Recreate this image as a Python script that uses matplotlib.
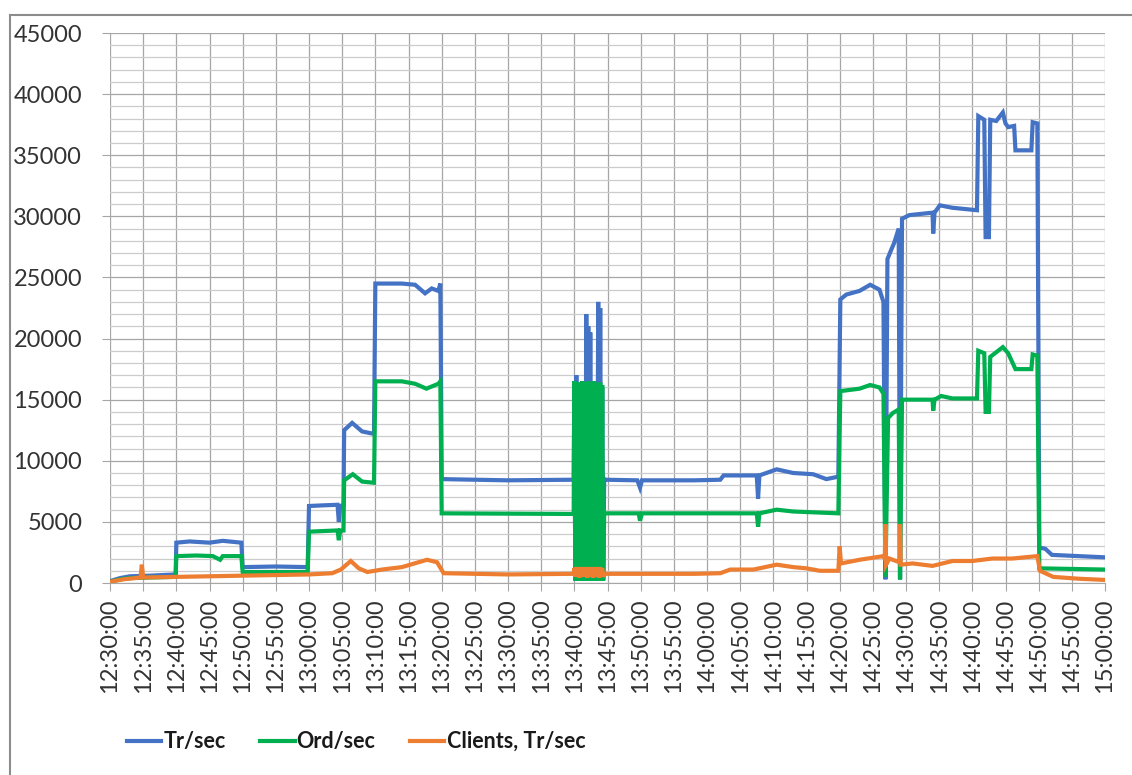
import matplotlib
matplotlib.use("Agg")
import matplotlib.pyplot as plt
from matplotlib.ticker import MultipleLocator, FuncFormatter
from matplotlib.lines import Line2D
import numpy as np

plt.rcParams['font.family'] = ['Lato', 'DejaVu Sans']

# time is in minutes after 12:30:00
# burst of rapid oscillation around 13:40 - 13:44
burst_t = [70.0, 70.15, 70.3, 70.45, 70.6, 70.75, 70.9, 71.05, 71.2, 71.35, 71.5,
           71.65, 71.8, 71.95, 72.1, 72.25, 72.4, 72.55, 72.7, 72.85, 73.0,
           73.15, 73.3, 73.45, 73.6, 73.75, 73.9, 74.05, 74.2, 74.35, 74.5]
burst_tr = [16500, 300, 17000, 400, 16000, 300, 15800, 400, 16200, 300, 16000,
            400, 22000, 300, 21000, 400, 20500, 300, 16500, 400, 16000,
            300, 16200, 400, 23000, 300, 22500, 400, 16000, 300, 8500]
burst_ord = [16500, 200, 16000, 300, 16400, 200, 16200, 300, 16500, 200, 16400,
             300, 16000, 200, 16500, 300, 16200, 200, 16400, 300, 16500,
             200, 16300, 300, 16000, 200, 16400, 300, 16200, 200, 5700]
burst_cl = [1200, 500, 1300, 600, 1200, 450, 1300, 500, 1250, 600, 1300,
            500, 1200, 450, 1300, 600, 1250, 500, 1300, 450, 1200,
            600, 1300, 500, 1250, 450, 1300, 600, 1200, 500, 750]

# Tr/sec
tr_t_a = [0, 1.5, 3, 6, 9.9, 10.0, 12, 15, 17, 19.8, 20.0, 25, 29.8, 30.0, 32, 34.3, 34.5,
          34.7, 35.2, 35.3, 36.5, 38, 39.8, 40.0, 44, 46, 47.5, 48.5, 49.5, 49.8, 50.0,
          60, 69.9]
tr_v_a = [150, 400, 550, 600, 700, 3300, 3400, 3300, 3450, 3300, 1300, 1350, 1300, 6300, 6350,
          6400, 5000, 6300, 6400, 12500, 13100, 12400, 12200, 24500, 24500, 24400, 23700,
          24100, 23900, 24500, 8500, 8400, 8450]
tr_t_b = [74.6, 79.5, 79.9, 80.2, 88, 92, 92.5, 97.5, 97.7, 97.9, 100.5, 103, 106, 108, 109.8,
          110.1, 111, 113, 114.6, 116, 116.6, 116.9, 117.2, 117.8, 118.2, 118.9, 119.1,
          119.4, 120.5, 124.0, 124.1, 124.3, 125.1, 127, 130.7, 130.9, 131.8, 132.0, 132.5,
          132.7, 133.6, 134.6, 135.0, 135.4, 136.3, 136.5, 138.9, 139.1, 139.8, 140.1, 141,
          142, 146, 150]
tr_v_b = [8450, 8400, 7800, 8400, 8400, 8450, 8800, 8800, 6900, 8800, 9300, 9000, 8900, 8500,
          8700, 23200, 23600, 23900, 24400, 24000, 23000, 300, 26500, 27300, 27800, 29000,
          300, 29800, 30100, 30300, 28600, 30300, 30900, 30700, 30500, 38200, 37900, 28300,
          28300, 37900, 37800, 38500, 37600, 37300, 37400, 35400, 35400, 37700, 37600, 2900,
          2800, 2300, 2200, 2100]

# Ord/sec
ord_t_a = [0, 1.5, 3, 6, 9.9, 10.0, 13, 15.5, 16.6, 17, 19.8, 20.0, 29.8, 30.0, 34.3, 34.5,
           34.7, 35.2, 35.3, 36.6, 38, 39.8, 40.0, 44, 46, 47.7, 49.5, 49.8, 50.0, 69.9]
ord_v_a = [100, 300, 400, 450, 500, 2200, 2250, 2200, 1900, 2200, 2200, 900, 900, 4200, 4300,
           3500, 4300, 4300, 8400, 8900, 8300, 8200, 16500, 16500, 16300, 15900, 16300, 16500,
           5700, 5650]
ord_t_b = [74.6, 79.7, 79.9, 80.2, 92, 97.5, 97.7, 97.9, 100.5, 103, 109.8, 110.1, 113, 114.6,
           116, 116.6, 116.9, 117.3, 118, 118.9, 119.1, 119.4, 124.0, 124.1, 124.3, 125.3,
           127, 130.7, 130.9, 131.8, 132.0, 132.5, 132.7, 134.6, 135.4, 136.5, 138.9, 139.1,
           139.8, 140.1, 150]
ord_v_b = [5700, 5700, 5100, 5700, 5700, 5700, 4600, 5700, 6000, 5850, 5700, 15700, 15900,
           16200, 16000, 15500, 500, 13500, 13900, 14200, 300, 15000, 15000, 14100, 15000,
           15300, 15100, 15100, 19000, 18800, 14000, 14000, 18500, 19300, 18800, 17500,
           17500, 18700, 18600, 1200, 1100]

# Clients, Tr/sec
cl_t_a = [0, 2, 4.6, 4.8, 5.0, 10, 20, 30, 33.5, 34.8, 36.3, 37.5, 38.8, 41, 44, 47.8, 49.3,
          50.3, 60, 69.9]
cl_v_a = [100, 300, 450, 1500, 450, 500, 600, 700, 800, 1100, 1800, 1200, 900, 1100, 1300,
          1900, 1700, 800, 700, 750]
cl_t_b = [74.6, 88, 92, 93.5, 97, 100.5, 103, 105, 107, 109.8, 110.0, 110.2, 113, 116.6,
          116.8, 116.9, 117.0, 117.5, 119.0, 119.1, 119.2, 121, 124, 127, 130, 133, 136,
          139.8, 140.2, 142.2, 146, 150]
cl_v_b = [750, 750, 800, 1100, 1100, 1500, 1300, 1200, 1000, 1000, 3000, 1600, 1900, 2200,
          2000, 4800, 1500, 2000, 1700, 4800, 1500, 1600, 1400, 1800, 1800, 2000, 2000,
          2200, 1000, 500, 350, 250]

series_names = ['Tr/sec', 'Ord/sec', 'Clients, Tr/sec']
series_colors = ['#4472C4', '#00B050', '#ED7D31']

tr_t = np.concatenate([tr_t_a, burst_t, tr_t_b])
tr_v = np.concatenate([tr_v_a, burst_tr, tr_v_b])
ord_t = np.concatenate([ord_t_a, burst_t, ord_t_b])
ord_v = np.concatenate([ord_v_a, burst_ord, ord_v_b])
cl_t = np.concatenate([cl_t_a, burst_t, cl_t_b])
cl_v = np.concatenate([cl_v_a, burst_cl, cl_v_b])

fig = plt.figure(figsize=(11.32, 7.75), dpi=100)
ax = fig.add_axes([110/1132, 1-583/775, 995/1132, 550/775])

for (t, v), name, col in zip([(tr_t, tr_v), (ord_t, ord_v), (cl_t, cl_v)],
                             series_names, series_colors):
    ax.plot(t, v, color=col, lw=3.0, label=name, solid_joinstyle='miter')

ax.set_xlim(0, 150)
ax.set_ylim(0, 45000)
ax.xaxis.set_major_locator(MultipleLocator(5))
ax.yaxis.set_major_locator(MultipleLocator(5000))
ax.yaxis.set_minor_locator(MultipleLocator(1000))


def fmt_time(m, pos):
    total = 12*60 + 30 + int(round(m))
    return f"{total//60}:{total%60:02d}:00"


ax.xaxis.set_major_formatter(FuncFormatter(fmt_time))
ax.grid(which='major', axis='both', color='#a6a6a6', lw=0.9)
ax.grid(which='minor', axis='y', color='#cccccc', lw=0.9)
ax.set_axisbelow(True)
for s in ax.spines.values():
    s.set_visible(False)
ax.spines['bottom'].set_visible(True)
ax.spines['bottom'].set_color('#a6a6a6')
ax.tick_params(axis='x', which='major', length=6, color='#a6a6a6', pad=5,
               labelsize=17, labelrotation=90, labelcolor='#333333')
ax.tick_params(axis='y', which='major', length=6, color='#a6a6a6', pad=14,
               labelsize=17, labelcolor='#333333')
ax.tick_params(axis='y', which='minor', length=0)

leg = fig.legend(loc='center', bbox_to_anchor=(0.3145, 0.043), ncol=3, frameon=False,
                 handlelength=1.6, handletextpad=0.1, columnspacing=1.6, fontsize=15.5,
                 labelcolor='#1a1a1a', prop={'weight': 'bold', 'size': 15.5})
for h in leg.legend_handles:
    h.set_linewidth(3.0)

# outer chart frame (only left and top edges visible in the crop)
fig.add_artist(Line2D([10/1132, 10/1132], [0, 1-15/775], transform=fig.transFigure,
                      color='#8c8c8c', lw=1.5))
fig.add_artist(Line2D([10/1132, 1], [1-15/775, 1-15/775], transform=fig.transFigure,
                      color='#8c8c8c', lw=1.5))

fig.savefig('out.png', dpi=100)
